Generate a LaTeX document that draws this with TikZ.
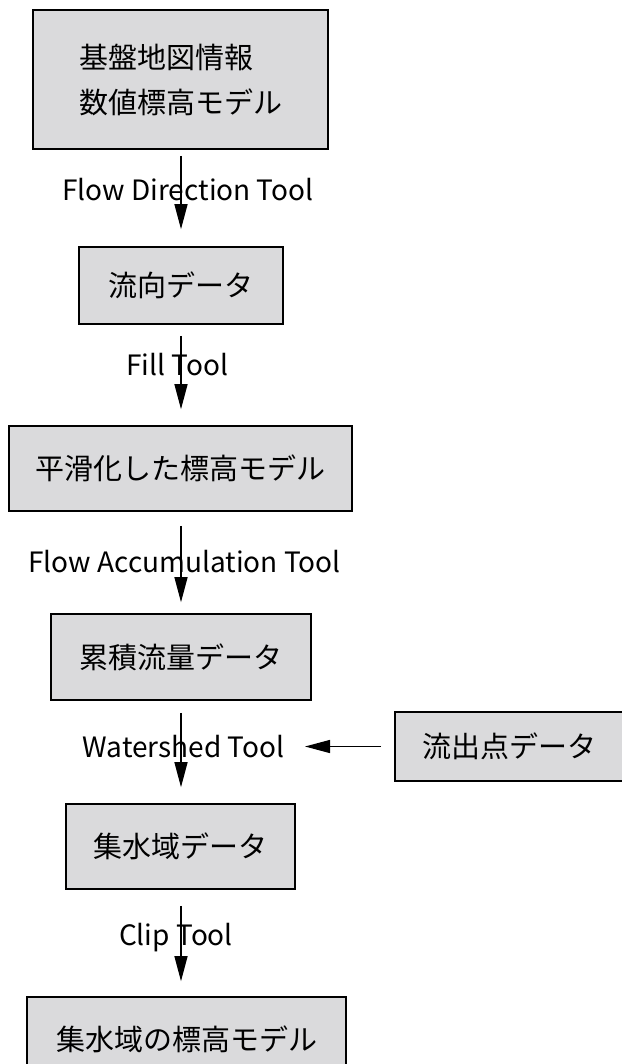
\documentclass[tikz,border=0pt]{standalone}
\usepackage{fontspec}
\newfontfamily\jp{Noto Sans CJK JP}
\usetikzlibrary{arrows.meta}
\definecolor{boxgray}{RGB}{218,218,220}
\tikzset{
  databox/.style={draw=black, line width=1.6pt, fill=boxgray, inner sep=0pt,
    font=\jp\fontsize{29}{45}\selectfont, text=black},
  toollabel/.style={inner sep=0pt, font=\jp\fontsize{28}{30}\selectfont, text=black},
  flowarrow/.style={line width=1.3pt, -{Triangle[length=25pt,width=13pt]}},
}
\begin{document}
\begin{tikzpicture}[x=1pt,y=-1pt]
\useasboundingbox (0,0) rectangle (621,1064);
% boxes
\node[databox, minimum width=295pt, minimum height=139pt, align=left] (b1) at (180.5,79.5)
  {基盤地図情報\\数値標高モデル};
\node[databox, minimum width=204pt, minimum height=77pt] (b2) at (181,285.5) {流向データ};
\node[databox, minimum width=343pt, minimum height=85pt] (b3) at (180.5,468.5) {平滑化した標高モデル};
\node[databox, minimum width=260pt, minimum height=86pt] (b4) at (181,657) {累積流量データ};
\node[databox, minimum width=229pt, minimum height=85pt] (b5) at (180.5,846.5) {集水域データ};
\node[databox, minimum width=319pt, minimum height=85pt] (b6) at (186.5,1039.5) {集水域の標高モデル};
\node[databox, minimum width=229pt, minimum height=69pt] (src) at (509.5,746.5) {流出点データ};
% connectors
\draw[flowarrow, shorten <=6pt, shorten >=17pt] (b1.south -| b2.north) -- (b2.north);
\draw[flowarrow, shorten <=11pt, shorten >=16pt] (b2.south) -- (b2.south |- b3.north);
\draw[flowarrow, shorten <=14pt, shorten >=11pt] (b2.south |- b3.south) -- (b2.south |- b4.north);
\draw[flowarrow, shorten <=12pt, shorten >=16pt] (b2.south |- b4.south) -- (b2.south |- b5.north);
\draw[flowarrow, shorten <=16pt, shorten >=15pt] (b2.south |- b5.south) -- (b2.south |- b6.north);
\coordinate (wsin) at (305,746.5);
\draw[flowarrow, shorten <=13pt] (src.west) -- (wsin);
% labels
\node[toollabel] (l1) at (188,190) {Flow Direction Tool};
\node[toollabel] (l2) at (177,365) {Fill Tool};
\node[toollabel] (l3) at (184.5,562) {Flow Accumulation Tool};
\node[toollabel] (l4) at (183.5,747) {Watershed Tool};
\node[toollabel] (l5) at (176,938) {Clip Tool};
\end{tikzpicture}
\end{document}
